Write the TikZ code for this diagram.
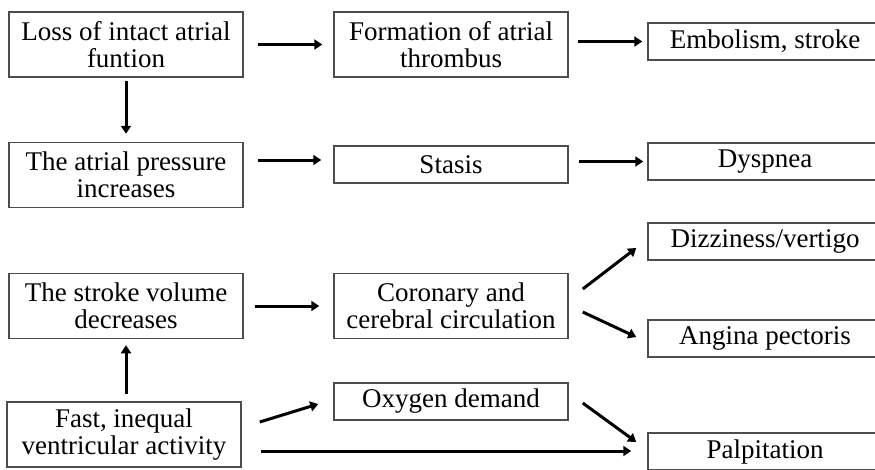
\documentclass[tikz,border=0pt]{standalone}
\usepackage{fontspec}
\setmainfont{Liberation Serif}
\usetikzlibrary{arrows.meta,positioning,calc}

\begin{document}
\begin{tikzpicture}[x=1pt,y=-1pt,
  box/.style={draw=black!70,line width=1.5pt,text=black,minimum width=234pt,
    inner sep=0pt,align=center,font=\fontsize{27}{27}\selectfont},
  tall/.style={box,minimum height=65pt},
  flat/.style={box,minimum height=37pt},
  arr/.style={line width=3pt,-{Triangle[length=8pt,width=10pt]}}]
  \useasboundingbox (0,0) rectangle (875,469);
  \clip (0,0) rectangle (875,469);

  % causes (left column)
  \node[tall] (A1) at (126,44.5) {Loss of intact atrial\\funtion};
  \node[tall] (A2) at (126,175) {The atrial pressure\\increases};
  \node[tall] (A3) at (126,306) {The stroke volume\\decreases};
  \node[tall] (A4) at (124,434.5) {Fast, inequal\\ventricular activity};

  % mechanisms (middle column)
  \node[tall] (B1) at (451,44.5) {Formation of atrial\\thrombus};
  \node[flat] (B2) at (451,164.5) {Stasis};
  \node[tall] (B3) at (451,306) {Coronary and\\cerebral circulation};
  \node[flat] (B4) at (451,401.5) {Oxygen demand};

  % symptoms (right column)
  \node[flat] (C1) at (765,41.5) {Embolism, stroke};
  \node[flat] (C2) at (765,161.5) {Dyspnea};
  \node[flat] (C3) at (765,241.5) {Dizziness/vertigo};
  \node[flat] (C4) at (765,338.5) {Angina pectoris};
  \node[flat] (C5) at (765,451.5) {Palpitation};

  % arrows
  \draw[arr,shorten <=14pt,shorten >=11pt] (A1.east) -- (B1.west);
  \draw[arr,shorten <=9pt,shorten >=5pt] (B1.east |- C1.west) -- (C1.west);
  \draw[arr,shorten <=3pt,shorten >=8pt] (A1.south) -- (A2.north);
  \draw[arr] ($(A2.east)+(14,-15)$) -- ($(B2.west)+(-12,-4.5)$);
  \draw[arr,shorten <=10pt,shorten >=4pt] (B2.east |- C2.west) -- (C2.west);
  \draw[arr,shorten <=11pt,shorten >=14pt] (A3.east) -- (B3.west);
  \draw[arr] ($(B3.east)+(14,-17)$) -- ($(C3.west)+(-11,6.5)$);
  \draw[arr] ($(B3.east)+(14,6)$) -- ($(C4.west)+(-11,-1.5)$);
  \draw[arr,shorten <=7pt,shorten >=6pt] (A4.north -| A3.south) -- (A3.south);
  \draw[arr] ($(A4.east)+(18,-12.5)$) -- ($(B4.west)+(-15,2.5)$);
  \draw[arr] ($(A4.east)+(19,16.5)$) -- ($(C5.west)+(-16,-0.5)$);
  \draw[arr] ($(B4.east)+(14,1.5)$) -- ($(C5.west)+(-11,-9.5)$);
\end{tikzpicture}
\end{document}
